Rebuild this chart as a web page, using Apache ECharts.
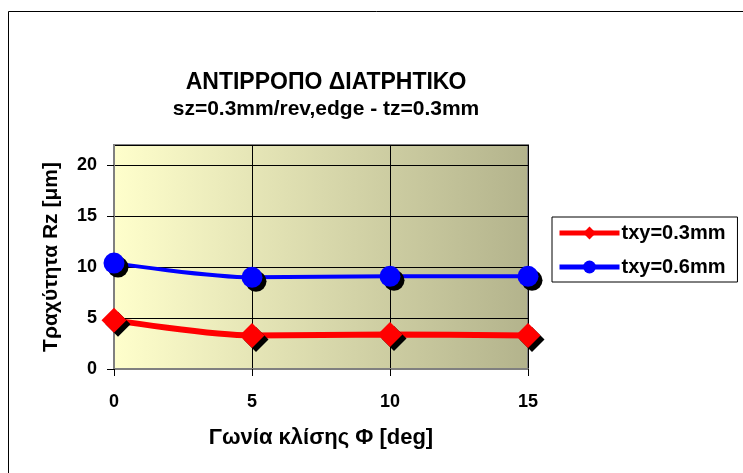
<!DOCTYPE html>
<html>
<head>
<meta charset="utf-8">
<script src="https://cdn.jsdelivr.net/npm/echarts@6/dist/echarts.min.js"></script>
<style>html,body{margin:0;padding:0;background:#fff}#c{width:743px;height:473px}</style>
</head>
<body>
<div id="c"></div>
<script>
var angles = [0, 5, 10, 15];
var rz03 = [4.8, 3.3, 3.4, 3.3];
var rz06 = [10.4, 9.0, 9.1, 9.1];
var seriesNames = ['txy=0.3mm', 'txy=0.6mm'];
var titleText = 'ΑΝΤΙΡΡΟΠΟ ΔΙΑΤΡΗΤΙΚΟ';
var subText = 'sz=0.3mm/rev,edge - tz=0.3mm';
var xName = 'Γωνία κλίσης Φ [deg]';
var yName = 'Τραχύτητα Rz [μm]';

function pairs(xs, ys) { return xs.map(function (x, i) { return [x, ys[i]]; }); }

var FONT = '"Liberation Sans", Arial, sans-serif';
var chart = echarts.init(document.getElementById('c'), null, { renderer: 'canvas' });
chart.setOption({
  backgroundColor: '#fff',
  animation: false,
  textStyle: { fontFamily: FONT },
  graphic: [{
    type: 'rect', left: 6, top: 9, shape: { width: 800, height: 500 },
    style: { fill: 'none', stroke: '#000', lineWidth: 1 }, silent: true, z: -1
  }],
  title: {
    text: titleText, subtext: subText,
    left: 321, top: 66, textAlign: 'center', itemGap: 5,
    textStyle: { fontFamily: FONT, fontSize: 23, fontWeight: 'bold', color: '#000' },
    subtextStyle: { fontFamily: FONT, fontSize: 21, fontWeight: 'bold', color: '#000' }
  },
  legend: {
    left: 552, top: 217,
    orient: 'vertical', itemGap: 14,
    padding: [6, 12, 5, 5],
    borderColor: '#000', borderWidth: 1,
    itemWidth: 60, itemHeight: 16,
    data: seriesNames,
    lineStyle: { width: 5 },
    itemStyle: { shadowColor: 'rgba(0,0,0,0)', shadowOffsetX: 0, shadowOffsetY: 0 },
    textStyle: { fontFamily: FONT, fontSize: 20, fontWeight: 'bold', color: '#000', padding: [0, 0, 0, -3] }
  },
  grid: {
    left: 114, right: 215, top: 145, bottom: 104, show: true,
    borderColor: '#808080', borderWidth: 2,
    backgroundColor: new echarts.graphic.LinearGradient(0, 0, 1, 0, [
      { offset: 0, color: '#FFFFCC' }, { offset: 1, color: '#B3B38C' }
    ])
  },
  xAxis: {
    type: 'value', min: 0, max: 15, interval: 5,
    name: xName, nameLocation: 'middle', nameGap: 58,
    nameTextStyle: { fontFamily: FONT, fontSize: 22, fontWeight: 'bold', color: '#000' },
    axisLine: { show: true, lineStyle: { color: '#808080', width: 2 } },
    axisTick: { show: true, length: 7, lineStyle: { color: '#000', width: 1 } },
    axisLabel: { fontFamily: FONT, fontSize: 18, fontWeight: 'bold', color: '#000', margin: 24 },
    splitLine: { show: true, lineStyle: { color: '#000', width: 1 } }
  },
  yAxis: {
    type: 'value', min: 0, max: 22, interval: 5,
    name: yName, nameLocation: 'middle', nameGap: 52, nameRotate: 90,
    nameTextStyle: { fontFamily: FONT, fontSize: 21, fontWeight: 'bold', color: '#000' },
    axisLine: { show: true, lineStyle: { color: '#808080', width: 2 } },
    axisTick: { show: true, length: 7, lineStyle: { color: '#000', width: 1 } },
    axisLabel: { fontFamily: FONT, fontSize: 18, fontWeight: 'bold', color: '#000', margin: 17, showMaxLabel: false },
    splitLine: { show: true, lineStyle: { color: '#000', width: 1 } }
  },
  series: [{
    name: seriesNames[0], type: 'line', data: pairs(angles, rz03),
    smooth: 0.3, symbol: 'diamond', symbolSize: 25,
    lineStyle: { color: '#FF0000', width: 6 },
    itemStyle: { color: '#FF0000', shadowColor: '#000', shadowOffsetX: 4, shadowOffsetY: 4, shadowBlur: 0 },
    z: 3
  }, {
    name: seriesNames[1], type: 'line', data: pairs(angles, rz06),
    smooth: 0.3, symbol: 'circle', symbolSize: 21,
    lineStyle: { color: '#0000FF', width: 4 },
    itemStyle: { color: '#0000FF', shadowColor: '#000', shadowOffsetX: 4, shadowOffsetY: 4, shadowBlur: 0 },
    z: 3
  }]
});
</script>
</body>
</html>
